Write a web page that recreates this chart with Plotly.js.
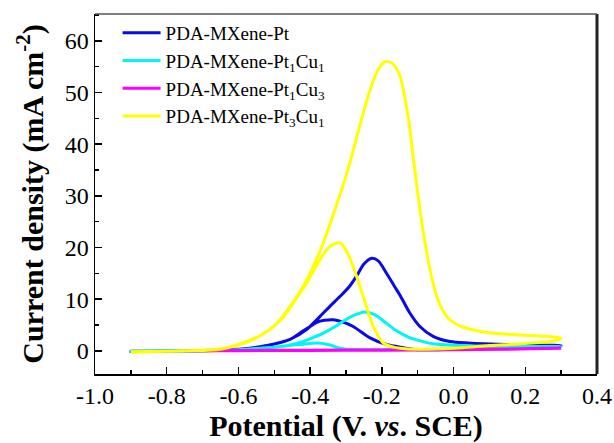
<!DOCTYPE html>
<html>
<head>
<meta charset="utf-8">
<script src="https://cdn.plot.ly/plotly-3.0.1.min.js"></script>
<style>html,body{margin:0;padding:0;background:#fff;}#chart{width:614px;height:443px;}</style>
</head>
<body>
<div id="chart"></div>
<script>
// ---- Data (forward scan followed by backward scan) ----
const seriesNames = [
  "PDA-MXene-Pt",
  "PDA-MXene-Pt<sub>1</sub>Cu<sub>1</sub>",
  "PDA-MXene-Pt<sub>1</sub>Cu<sub>3</sub>",
  "PDA-MXene-Pt<sub>3</sub>Cu<sub>1</sub>"
];
const seriesColors = ["#0a0ae6", "#00f5f5", "#ff00ff", "#ffff00"];

const ptX = [-0.9,-0.8,-0.7,-0.6,-0.568,-0.5,-0.456,-0.41,-0.373,-0.345,-0.317,-0.29,-0.27,-0.25,-0.228,-0.21,-0.187,-0.165,-0.149,-0.122,-0.094,-0.057,-0.01,0.04,0.083,0.2,0.3,
             0.25,0.1,0.0,-0.1,-0.14,-0.187,-0.233,-0.28,-0.31,-0.335,-0.36,-0.382,-0.4,-0.42,-0.456,-0.5,-0.568,-0.65,-0.9];
const ptY = [-0.1,-0.05,0.05,0.3,0.5,1.3,2.2,4.1,6.6,8.6,10.5,12.5,14.5,16.8,17.9,17.4,15.0,12.5,10.7,7.3,4.7,2.8,1.8,1.5,1.35,1.15,1.0,
             0.8,0.5,0.3,0.2,0.6,1.2,2.5,4.7,5.6,6.0,5.9,5.5,4.7,3.8,2.2,1.3,0.5,0.1,-0.1];

const pt11X = [-0.9,-0.7,-0.6,-0.54,-0.484,-0.45,-0.419,-0.39,-0.363,-0.335,-0.308,-0.28,-0.247,-0.22,-0.187,-0.16,-0.131,-0.103,-0.057,0.037,0.15,0.3,
               0.2,0.0,-0.2,-0.3,-0.317,-0.345,-0.377,-0.4,-0.43,-0.46,-0.5,-0.6,-0.9];
const pt11Y = [-0.1,0.0,0.2,0.5,0.8,1.2,1.8,2.6,3.4,4.5,5.7,6.8,7.5,7.0,5.3,3.9,2.8,2.1,1.35,0.97,0.85,0.8,
               0.5,0.3,0.2,0.3,0.5,1.1,1.5,1.4,1.2,1.0,0.7,0.2,-0.1];

const pt13X = [-0.75,-0.6,-0.4,-0.2,0.0,0.15,0.3,
               0.15,0.0,-0.2,-0.4,-0.6,-0.75];
const pt13Y = [0.0,0.05,0.1,0.15,0.25,0.35,0.5,
               0.3,0.2,0.12,0.06,0.02,0.0];

const pt31X = [-0.9,-0.8,-0.7,-0.65,-0.6,-0.55,-0.5,-0.46,-0.42,-0.39,-0.36,-0.33,-0.3,-0.275,-0.25,-0.228,-0.21,-0.19,-0.17,-0.15,-0.14,-0.125,-0.11,-0.095,-0.08,-0.065,-0.047,-0.03,-0.01,0.03,0.08,0.13,0.2,0.25,0.3,
               0.28,0.2,0.1,0.0,-0.1,-0.15,-0.168,-0.196,-0.224,-0.252,-0.28,-0.3,-0.317,-0.345,-0.373,-0.41,-0.44,-0.48,-0.53,-0.58,-0.65,-0.75,-0.9];
const pt31Y = [-0.2,-0.1,0.1,0.4,1.1,2.5,4.8,8.2,12.4,16.5,21.5,27.5,33.8,40.0,46.5,51.5,54.5,56.0,55.6,53.3,50.5,44.5,36.0,28.0,21.0,15.5,10.5,7.8,6.0,4.5,3.7,3.3,3.0,2.8,2.45,
               1.9,1.4,1.0,0.5,0.3,0.5,0.7,1.5,4.7,10.5,16.3,19.5,20.9,20.2,17.6,13.1,10.0,6.1,3.3,1.7,0.3,0.0,-0.3];

const xTickVals = [-1.0,-0.8,-0.6,-0.4,-0.2,0.0,0.2,0.4];
const xTickText = ["-1.0","-0.8","-0.6","-0.4","-0.2","0.0","0.2","0.4"];
const yTickVals = [0,10,20,30,40,50,60];
const yTickText = ["0","10","20","30","40","50","60"];

// ---- Traces ----
const xs = [ptX, pt11X, pt13X, pt31X];
const ys = [ptY, pt11Y, pt13Y, pt31Y];
const traces = xs.map((x, i) => ({
  x: x, y: ys[i], type: "scatter", mode: "lines",
  name: seriesNames[i],
  line: {color: seriesColors[i], width: 3, shape: "spline", smoothing: 0.8}
}));

const serif = "Liberation Serif";
const layout = {
  width: 614, height: 443,
  margin: {l: 95, r: 17, t: 14, b: 69},
  paper_bgcolor: "#fff", plot_bgcolor: "#fff",
  font: {family: serif, color: "#000"},
  showlegend: true,
  legend: {x: 0.045, y: 1.0, xanchor: "left", yanchor: "top", itemwidth: 38,
           bgcolor: "rgba(0,0,0,0)", font: {family: serif, size: 19, color: "#000"}},
  shapes: [
    {type: "line", xref: "paper", yref: "paper", x0: 1, x1: 1, y0: 0, y1: 1,
     line: {color: "#222", width: 3}},
    {type: "line", xref: "paper", yref: "paper", x0: 0, x1: 1, y0: 1, y1: 1,
     line: {color: "#555", width: 1.5}}
  ],
  xaxis: {
    range: [-1.0, 0.4], tickvals: xTickVals, ticktext: xTickText,
    ticks: "inside", ticklen: 7, tickwidth: 1.5, tickcolor: "#000",
    minor: {dtick: 0.1, tick0: 0, ticks: "inside", ticklen: 4, tickwidth: 1.5, tickcolor: "#000"},
    showline: true, linecolor: "#000", linewidth: 1.5, mirror: false,
    showgrid: false, zeroline: false,
    tickfont: {family: serif, size: 24, color: "#000"},
    title: {text: "<b>Potential (V. <i>vs</i>. SCE)</b>", font: {family: serif, size: 30, color: "#000"}, standoff: 6}
  },
  yaxis: {
    range: [-4.5, 65.2], tickvals: yTickVals, ticktext: yTickText,
    ticks: "inside", ticklen: 7, tickwidth: 1.5, tickcolor: "#000",
    minor: {dtick: 5, tick0: 0, ticks: "inside", ticklen: 4, tickwidth: 1.5, tickcolor: "#000"},
    showline: true, linecolor: "#000", linewidth: 1.5, mirror: false,
    showgrid: false, zeroline: false,
    tickfont: {family: serif, size: 24, color: "#000"},
    title: {text: "<b>Current density (mA cm<sup>-2</sup>)</b>", font: {family: serif, size: 30, color: "#000"}, standoff: 12}
  }
};

Plotly.newPlot("chart", traces, layout, {displayModeBar: false, staticPlot: true});
</script>
</body>
</html>
